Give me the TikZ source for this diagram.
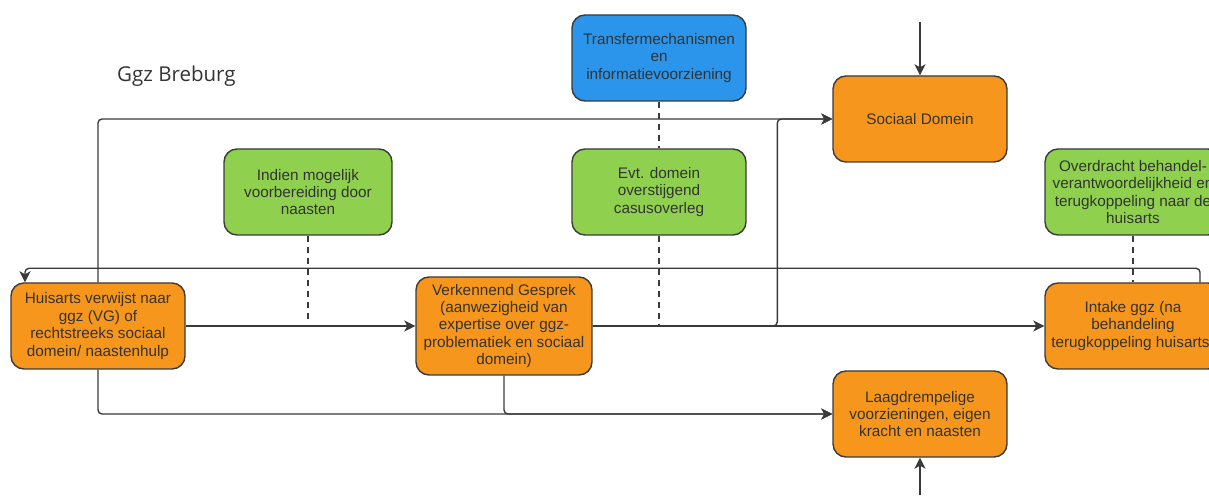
\documentclass[tikz,border=0pt]{standalone}
\usepackage{fontspec}
\setmainfont{Liberation Sans}
\newfontfamily\titlefont{Open Sans}
\usetikzlibrary{arrows.meta}

\definecolor{boxorange}{HTML}{F7961C}
\definecolor{boxgreen}{HTML}{8FD14F}
\definecolor{boxblue}{HTML}{2A95EA}
\definecolor{linegray}{HTML}{3A3A3A}
\definecolor{textgray}{HTML}{333333}

\begin{document}
\begin{tikzpicture}[x=1pt, y=1pt,
    box/.style={rectangle, rounded corners=13pt, draw=linegray, line width=1.4pt,
        minimum width=174pt, minimum height=86pt, align=center, inner sep=1pt,
        text=textgray, font=\fontsize{15.3}{17.4}\selectfont},
    orangebox/.style={box, fill=boxorange},
    greenbox/.style={box, fill=boxgreen},
    bluebox/.style={box, fill=boxblue},
    flow/.style={draw=linegray, line width=1.4pt, rounded corners=4pt,
        -{Stealth[length=11pt, width=11pt, inset=3pt]}},
    dashline/.style={draw=linegray, line width=1.4pt, dash pattern=on 6pt off 5pt}]

    % Page size
    \useasboundingbox (0,0) rectangle (1209,495);
    \clip (0,0) rectangle (1209,495);

    % Title
    \node[anchor=west, inner sep=0pt, text=textgray, font=\titlefont\fontsize{20.5}{24}\selectfont] (title) at (117,419) {Ggz Breburg};

    % Draw boxes
    \node[bluebox] (transfer) at (659,437) {Transfermechanismen\\en\\informatievoorziening};
    \node[orangebox] (sociaal) at (920,376) {Sociaal Domein};
    \node[greenbox, minimum width=168pt] (indien) at (308,303) {Indien mogelijk\\voorbereiding door\\naasten};
    \node[greenbox] (casus) at (659,303) {Evt. domein\\overstijgend\\casusoverleg};
    \node[greenbox, minimum width=176pt] (overdracht) at (1133,303) {Overdracht behandel-\\verantwoordelijkheid en\\terugkoppeling naar de\\huisarts};
    \node[orangebox] (huisarts) at (98,169) {Huisarts verwijst naar\\ggz (VG) of\\rechtstreeks sociaal\\domein/ naastenhulp};
    \node[orangebox, minimum width=176pt, minimum height=98pt] (gesprek) at (504,169) {Verkennend Gesprek\\(aanwezigheid van\\expertise over ggz-\\problematiek en sociaal\\domein)};
    \node[orangebox, minimum width=176pt] (intake) at (1133,169) {Intake ggz (na\\behandeling\\terugkoppeling huisarts)};
    \node[orangebox] (laag) at (920,81) {Laagdrempelige\\voorzieningen, eigen\\kracht en naasten};

    % Free ends
    \coordinate (topin) at (920,473);
    \coordinate (botin) at (920,0);

    % Draw connectors
    \draw[flow] (topin) -- (sociaal);
    \draw[flow] (botin) -- (laag);
    \draw[flow] (huisarts) -- (gesprek);
    \draw[flow] (gesprek) -- (intake);
    \draw[flow] (huisarts.north) |- (sociaal.west);
    \draw[flow] (gesprek.east) -| ([xshift=-55pt]sociaal.west) -- (sociaal.west);
    \draw[flow] (huisarts.south) |- (laag.west);
    \draw[flow] (gesprek.south) |- (laag.west);
    \draw[flow] ([xshift=67pt]intake.north) -- ++(0,14) -| ([xshift=-73pt]huisarts.north);

    % Dashed links
    \draw[dashline] (transfer.south) -- (casus.north);
    \draw[dashline] (casus.south) -- (casus.south |- gesprek.east);
    \draw[dashline] (indien.south) -- ([yshift=4pt]indien.south |- huisarts.east);
    \draw[dashline] (overdracht.south) -- (intake.north);
\end{tikzpicture}
\end{document}
